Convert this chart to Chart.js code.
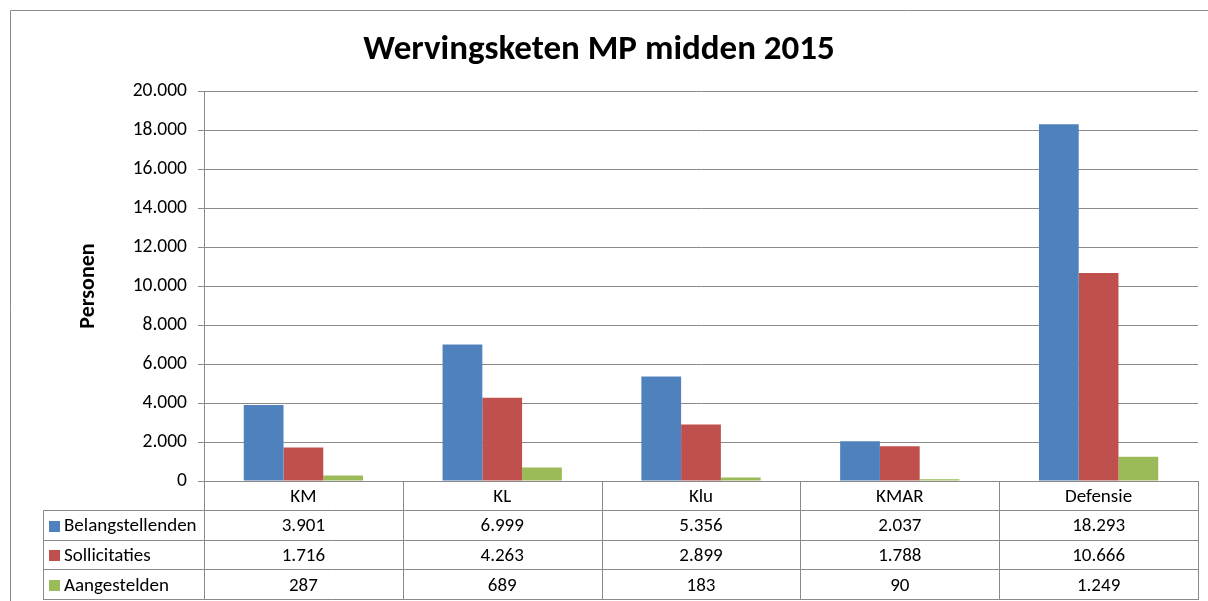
<!DOCTYPE html>
<html>
<head>
<meta charset="utf-8">
<title>Wervingsketen MP midden 2015</title>
<script src="https://cdn.jsdelivr.net/npm/chart.js@4/dist/chart.umd.min.js"></script>
<style>
  html, body { margin:0; padding:0; background:#fff; }
  #wrap { width:1208px; height:601px; }
</style>
</head>
<body>
<div id="wrap"><canvas id="chart" width="1208" height="601"></canvas></div>
<script>
// chart data
var categories = ["KM", "KL", "Klu", "KMAR", "Defensie"];
var seriesNames = ["Belangstellenden", "Sollicitaties", "Aangestelden"];
var belangstellenden = [3901, 6999, 5356, 2037, 18293];
var sollicitaties = [1716, 4263, 2899, 1788, 10666];
var aangestelden = [287, 689, 183, 90, 1249];
var seriesColors = ["#4F81BD", "#C0504D", "#9BBB59"];
var yTicks = [0, 2000, 4000, 6000, 8000, 10000, 12000, 14000, 16000, 18000, 20000];

var FONT = "Carlito, Lato, 'Liberation Sans', sans-serif";
var LINE = "#8a8a8a";

// 18293 -> 18.293
function nlNumber(v){
    return String(v).replace(/\B(?=(\d{3})+(?!\d))/g, ".");
}

// frame + data table under the plot
var tablePlugin = {
    id: "dataTable",
    afterDraw: function(chart){
        var ctx = chart.ctx;
        var area = chart.chartArea;
        var x = chart.scales.x;
        var n = categories.length;
        var colW = (area.right - area.left) / n;
        var top = area.bottom;
        var rowH = 29.75;
        var labelLeft = 43;
        var allSeries = chart.data.datasets;

        ctx.save();
        ctx.strokeStyle = LINE;
        ctx.lineWidth = 1;

        // outer frame (left and top only, rest is cut off)
        ctx.beginPath();
        ctx.moveTo(10.5, 601);
        ctx.lineTo(10.5, 10.5);
        ctx.lineTo(1208, 10.5);
        ctx.stroke();

        // column lines
        ctx.beginPath();
        for (var i = 0; i <= n; i++){
            var cx = Math.round(area.left + i * colW) + 0.5;
            ctx.moveTo(cx, top);
            ctx.lineTo(cx, top + rowH * 4);
        }
        // row lines
        for (var r = 1; r <= 4; r++){
            var ry = Math.round(top + r * rowH) - 0.5;
            ctx.moveTo(labelLeft + 0.5, ry);
            ctx.lineTo(Math.round(area.right) + 0.5, ry);
        }
        ctx.moveTo(labelLeft + 0.5, Math.round(top + rowH) - 0.5);
        ctx.lineTo(labelLeft + 0.5, Math.round(top + rowH * 4));
        ctx.stroke();

        ctx.fillStyle = "#000";
        ctx.font = "19px " + FONT;
        ctx.textBaseline = "middle";
        ctx.textAlign = "center";

        // category names
        for (var c = 0; c < n; c++){
            ctx.fillText(categories[c], x.getPixelForValue(c), top + rowH / 2 + 1);
        }

        // series rows
        for (var s = 0; s < allSeries.length; s++){
            var cy = top + rowH * (s + 1) + rowH / 2 + 1;
            ctx.fillStyle = allSeries[s].backgroundColor;
            ctx.fillRect(49, Math.round(cy) - 6, 11, 11);
            ctx.fillStyle = "#000";
            ctx.textAlign = "left";
            ctx.fillText(allSeries[s].label, 64, cy);
            ctx.textAlign = "center";
            for (var k = 0; k < n; k++){
                ctx.fillText(nlNumber(allSeries[s].data[k]), x.getPixelForValue(k), cy);
            }
        }
        ctx.restore();
    }
};

function chart(id){
    var ctx = document.getElementById(id).getContext("2d");
    var myChart = new Chart(ctx, {
        type: "bar",
        data: {
            labels: categories,
            datasets: [
                { label: seriesNames[0], data: belangstellenden, backgroundColor: seriesColors[0] },
                { label: seriesNames[1], data: sollicitaties, backgroundColor: seriesColors[1] },
                { label: seriesNames[2], data: aangestelden, backgroundColor: seriesColors[2] }
            ]
        },
        options: {
            responsive: false,
            animation: false,
            maintainAspectRatio: false,
            layout: { padding: { top: 0, left: 0, right: 10, bottom: 120 } },
            datasets: { bar: { categoryPercentage: 0.6, barPercentage: 1.0 } },
            plugins: {
                legend: { display: false },
                tooltip: { enabled: false },
                title: {
                    display: true,
                    text: "Wervingsketen MP midden 2015",
                    color: "#000",
                    font: { family: FONT, size: 35, weight: "bold" },
                    padding: { top: 29, bottom: 20 }
                }
            },
            scales: {
                x: { display: false },
                y: {
                    min: 0,
                    max: 20000,
                    afterFit: function(scale){ scale.width = 204; },
                    afterBuildTicks: function(scale){
                        scale.ticks = yTicks.map(function(v){ return { value: v }; });
                    },
                    ticks: {
                        color: "#000",
                        padding: 11,
                        font: { family: FONT, size: 19.5 },
                        callback: function(v){ return nlNumber(v); }
                    },
                    grid: { color: LINE, lineWidth: 1, tickLength: 6, drawTicks: true },
                    border: { display: true, color: LINE, width: 1 },
                    title: {
                        display: true,
                        text: "Personen",
                        color: "#000",
                        font: { family: FONT, size: 22, weight: "bold" },
                        padding: { top: 75 }
                    }
                }
            }
        },
        plugins: [tablePlugin]
    });
    return myChart;
}

chart("chart");
</script>
</body>
</html>
